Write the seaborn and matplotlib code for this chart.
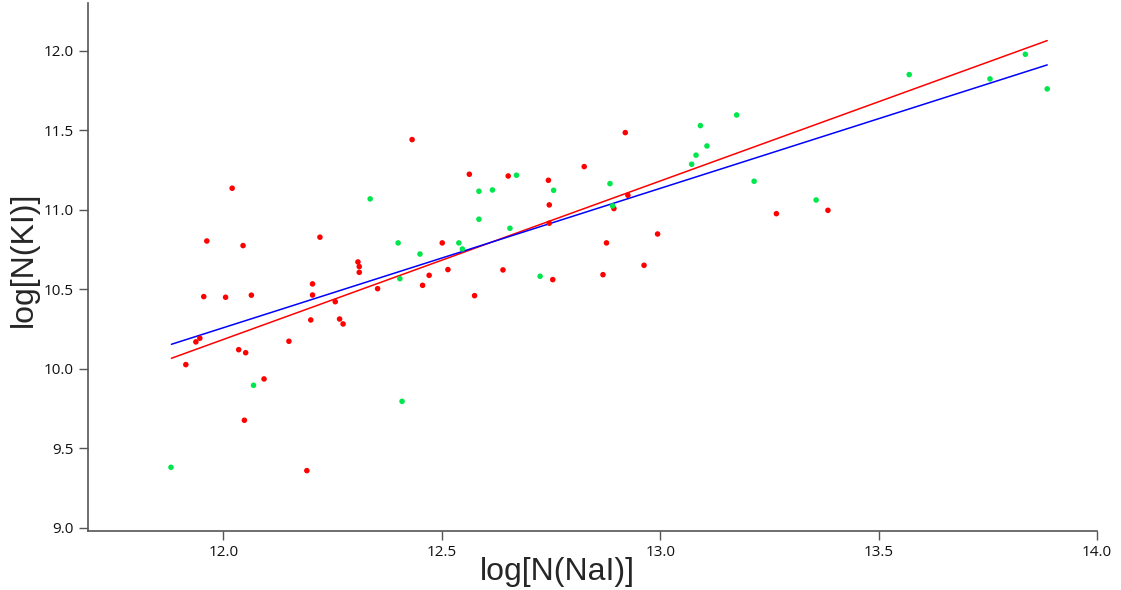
import pandas as pd
import matplotlib
matplotlib.use('Agg')
import matplotlib.pyplot as plt
import seaborn as sns

# pontos vermelhos (log N(NaI), log N(KI))
red_x = [12.432, 12.020, 11.962, 12.045, 12.221, 12.308, 12.311, 12.311, 12.471, 12.456,
         12.353, 12.204, 12.204, 11.955, 12.005, 12.064, 12.256, 12.200, 12.266, 12.274,
         11.946, 11.937, 12.150, 12.035, 12.051, 11.914, 12.093, 12.048, 12.191, 12.501,
         12.514, 12.575, 12.563, 12.640, 12.652, 12.744, 12.746, 12.746, 12.754, 12.826,
         12.920, 12.877, 12.869, 12.894, 12.926, 12.963, 12.994, 13.266, 13.384]
red_y = [11.442, 11.136, 10.804, 10.775, 10.828, 10.672, 10.643, 10.607, 10.588, 10.525,
         10.504, 10.534, 10.464, 10.454, 10.450, 10.463, 10.422, 10.307, 10.313, 10.282,
         10.192, 10.169, 10.173, 10.120, 10.101, 10.026, 9.936, 9.676, 9.359, 10.792,
         10.624, 10.460, 11.224, 10.622, 11.213, 11.186, 11.031, 10.916, 10.561, 11.272,
         11.486, 10.792, 10.592, 11.008, 11.092, 10.651, 10.848, 10.976, 10.997]

# pontos verdes
green_x = [12.336, 12.400, 12.450, 12.404, 12.069, 11.880, 12.409, 12.539, 12.547, 12.585,
           12.585, 12.616, 12.671, 12.656, 12.725, 12.756, 12.885, 12.891, 13.072, 13.082,
           13.092, 13.107, 13.175, 13.215, 13.357, 13.570, 13.755, 13.836, 13.886]
green_y = [11.069, 10.792, 10.722, 10.567, 9.896, 9.380, 9.795, 10.792, 10.754, 11.117,
           10.941, 11.125, 11.218, 10.884, 10.582, 11.123, 11.165, 11.025, 11.287, 11.344,
           11.530, 11.402, 11.597, 11.180, 11.062, 11.851, 11.824, 11.979, 11.761]

# retas de ajuste (extremos)
fit_x = [11.881, 13.886]
red_fit_y = [10.066, 12.065]
blue_fit_y = [10.154, 11.912]

df = pd.DataFrame({
    'x': red_x + green_x,
    'y': red_y + green_y,
    'grupo': ['r'] * len(red_x) + ['g'] * len(green_x),
})

sns.set_style('ticks')
plt.rcParams['font.family'] = ['Open Sans', 'DejaVu Sans']

fig = plt.figure(figsize=(11.21, 5.90), dpi=100)
ax = fig.add_axes([0.0785, 0.1005, 0.9001, 0.894])

sns.lineplot(x=fit_x, y=red_fit_y, color='#ff0000', lw=1.1, ax=ax)
sns.lineplot(x=fit_x, y=blue_fit_y, color='#0000ff', lw=1.1, ax=ax)
sns.scatterplot(data=df, x='x', y='y', hue='grupo',
                palette={'r': '#ff0000', 'g': '#00e64d'},
                s=16, edgecolor='none', legend=False, ax=ax, zorder=3)

ax.set_xlim(11.69, 14.0)
ax.set_ylim(8.981, 12.30)
ax.set_xticks([12.0, 12.5, 13.0, 13.5, 14.0])
ax.set_yticks([9.0, 9.5, 10.0, 10.5, 11.0, 11.5, 12.0])
ax.xaxis.set_major_formatter(matplotlib.ticker.FormatStrFormatter('%.1f'))
ax.yaxis.set_major_formatter(matplotlib.ticker.FormatStrFormatter('%.1f'))
ax.tick_params(direction='out', length=6.5, width=1, color='#555555',
               labelsize=11, labelcolor='#111111', pad=3.5)
sns.despine(ax=ax)
for s in ['left', 'bottom']:
    ax.spines[s].set_color('#555555')
    ax.spines[s].set_linewidth(1.2)

# rotulos dos eixos
ax.set_xlabel('')
ax.set_ylabel('')
fig.text(0.497, 0.017, 'log[N(NaI)]', fontsize=23, ha='center', va='baseline',
         family=['Liberation Sans'])
fig.text(0.008, 0.561, 'log[N(KI)]', fontsize=23, ha='left', va='center',
         rotation=90, family=['Liberation Sans'])

fig.savefig('out.png', dpi=100)
